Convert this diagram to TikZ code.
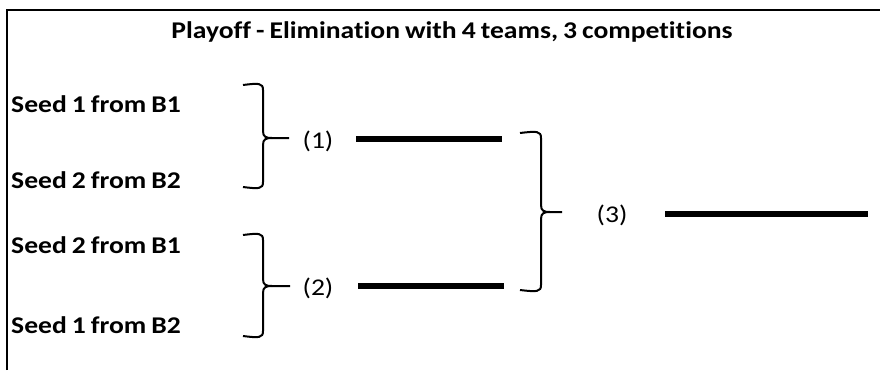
\documentclass[tikz,border=0pt]{standalone}
\usepackage{fontspec}
\setmainfont{Carlito}[FakeStretch=1.15,Ligatures=NoCommon,WordSpace=0.8]
\begin{document}
\begin{tikzpicture}[x=1pt,y=-1pt,
  seed/.style={anchor=base west,inner sep=0pt,font=\fontsize{24}{29}\selectfont\bfseries},
  lbl/.style={anchor=center,inner sep=0pt,font=\fontsize{24}{29}\selectfont},
  title/.style={anchor=base,inner sep=0pt,font=\fontsize{24}{29}\selectfont\bfseries},
  frame/.style={line width=2.2pt},
  brace/.style={line width=2pt},
  bar/.style={line width=5.5pt}]
\useasboundingbox (0,0) rectangle (880,370);
% frame
\coordinate (fbl) at (7,370);
\coordinate (ftl) at (7,10);
\coordinate (ftr) at (880,10);
\draw[frame] (fbl) -- (ftl) -- (ftr);
% title
\node[title] (title) at (452,38) {Playoff - Elimination with 4 teams, 3 competitions};
% seeds
\node[seed] (s11) at (11,112) {Seed 1 from B1};
\node[seed] (s22) at (11,188) {Seed 2 from B2};
\node[seed] (s21) at (11,253) {Seed 2 from B1};
\node[seed] (s12) at (11,333) {Seed 1 from B2};
% brace macro: #1 left x, #2 vertical x, #3 top y, #4 mid y, #5 bottom y, #6 tip x
\newcommand{\mybrace}[6]{%
  \draw[brace] (#1,#3+1) .. controls (#2-4,#3-1) and (#2,#3-1) .. (#2,#3+6)
    -- (#2,#4-7) .. controls (#2,#4-1) and (#2+3,#4) .. (#2+9,#4) -- (#6,#4);
  \draw[brace] (#2+9,#4) .. controls (#2+3,#4) and (#2,#4+1) .. (#2,#4+7)
    -- (#2,#5-6) .. controls (#2,#5+1) and (#2-4,#5+1) .. (#1,#5-1);
}
\mybrace{243}{263}{84}{138}{188}{289}
\mybrace{243}{263}{234}{286}{337}{290}
\mybrace{520}{541}{132}{212}{291}{562}
% labels
\node[lbl] (l1) at (318,141) {(1)};
\node[lbl] (l2) at (318,288) {(2)};
\node[lbl] (l3) at (612,215) {(3)};
% bars
\coordinate (b1a) at (356,139); \coordinate (b1b) at (502,139);
\coordinate (b2a) at (358,286); \coordinate (b2b) at (504,286);
\coordinate (b3a) at (665,214); \coordinate (b3b) at (868,214);
\draw[bar] (b1a) -- (b1b);
\draw[bar] (b2a) -- (b2b);
\draw[bar] (b3a) -- (b3b);
\end{tikzpicture}
\end{document}
